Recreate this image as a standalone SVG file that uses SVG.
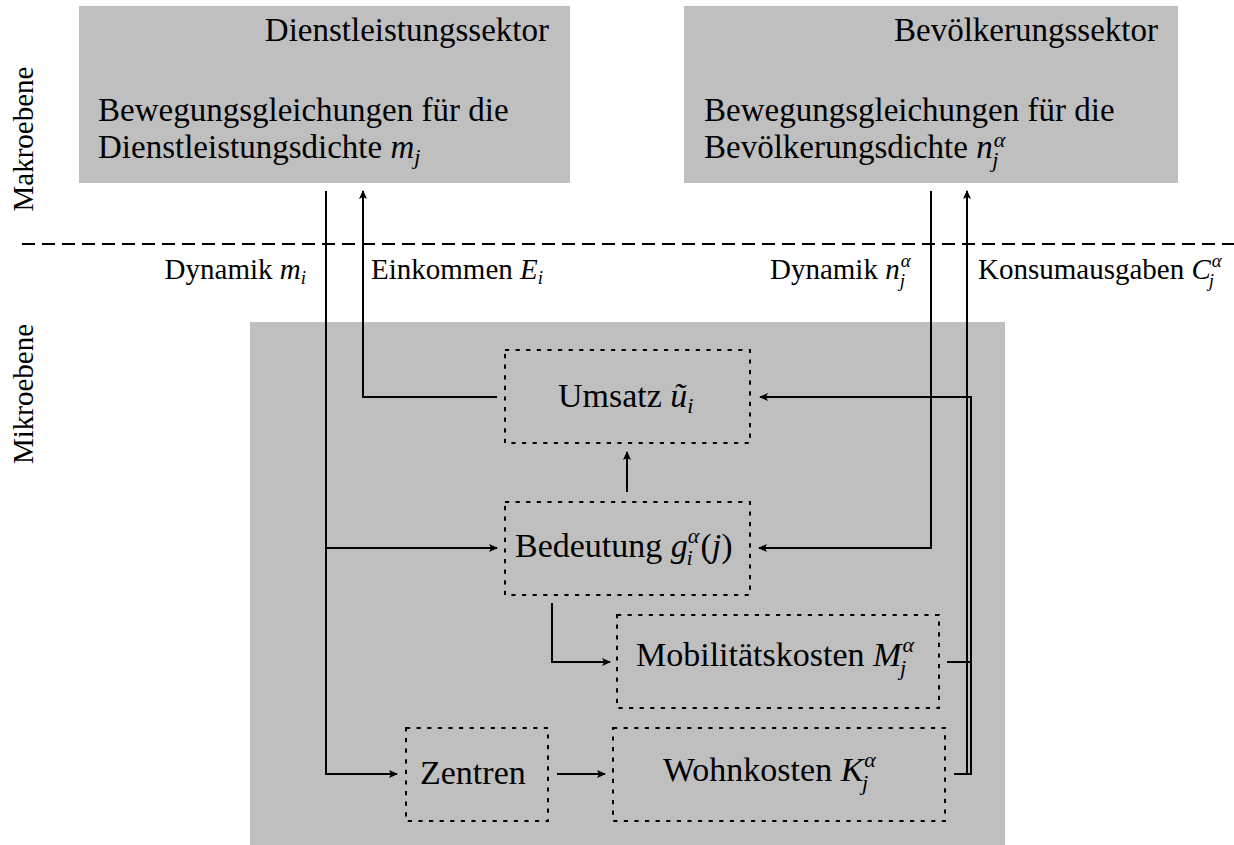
<svg xmlns="http://www.w3.org/2000/svg" width="1234" height="845" viewBox="0 0 1234 845">
<style>
text{font-family:'Liberation Serif','Times New Roman',serif;fill:#000}
.big{font-size:33px}
.mid{font-size:34px}
.sm{font-size:29px}
.it{font-style:italic}
.s1{font-size:22px;font-style:italic}
.s2{font-size:19px;font-style:italic}
.grey{fill:#bfbfbf}
.dot{fill:none;stroke:#000;stroke-width:2;stroke-dasharray:4.2 6.4}
.con{fill:none;stroke:#000;stroke-width:2}
</style>
<defs>
<marker id="ah" viewBox="-10 -5 12 10" refX="0" refY="0" markerWidth="12" markerHeight="10" orient="auto" markerUnits="userSpaceOnUse">
<path d="M1,0 L-8,-4 L-6,0 L-8,4 Z" fill="#000"/>
</marker>
</defs>
<rect width="1234" height="845" fill="#fff"/>
<g font-family="Liberation Serif, serif">

<g id="mikro-bg"><rect class="grey" x="250" y="322" width="755" height="523"/></g>

<g id="dienstleistung">
<rect class="grey" x="79" y="6" width="491" height="177"/>
<text class="big" x="549" y="41" text-anchor="end">Dienstleistungssektor</text>
<text class="big" x="98" y="121">Bewegungsgleichungen für die</text>
<text class="big" x="98" y="158">Dienstleistungsdichte <tspan class="it">m</tspan><tspan class="s1" dy="6">j</tspan></text>
</g>

<g id="bevoelkerung">
<rect class="grey" x="684" y="6" width="494" height="177"/>
<text class="big" x="1158" y="41" text-anchor="end">Bevölkerungssektor</text>
<text class="big" x="704" y="121">Bewegungsgleichungen für die</text>
<text class="big" x="704" y="158">Bevölkerungsdichte <tspan class="it">n</tspan><tspan class="s1" dx="1" dy="-11">α</tspan><tspan class="s1" dx="-13" dy="20">j</tspan></text>
</g>

<g id="ebenen">
<text class="sm" transform="translate(33,139) rotate(-90)" text-anchor="middle">Makroebene</text>
<text class="sm" transform="translate(33,394) rotate(-90)" text-anchor="middle">Mikroebene</text>
<line x1="22" y1="244" x2="1234" y2="244" stroke="#000" stroke-width="2" stroke-dasharray="13 7"/>
</g>

<g id="labels">
<text class="sm" x="306" y="279" text-anchor="end">Dynamik <tspan class="it">m</tspan><tspan class="s2" dy="5">i</tspan></text>
<text class="sm" x="371" y="279">Einkommen <tspan class="it">E</tspan><tspan class="s2" dy="5">i</tspan></text>
<text class="sm" x="770" y="279">Dynamik <tspan class="it">n</tspan><tspan class="s2" dx="1" dy="-12">α</tspan><tspan class="s2" dx="-11" dy="20">j</tspan></text>
<text class="sm" x="978" y="279">Konsumausgaben <tspan class="it">C</tspan><tspan class="s2" dx="1" dy="-12">α</tspan><tspan class="s2" dx="-13" dy="20">j</tspan></text>
</g>

<g id="umsatz">
<rect class="dot" x="505" y="350" width="245" height="93"/>
<text class="mid" x="558" y="407">Umsatz <tspan class="it">ũ</tspan><tspan class="s1" dy="6">i</tspan></text>
</g>

<g id="bedeutung">
<rect class="dot" x="505" y="502" width="245" height="93"/>
<text class="mid" x="515" y="557">Bedeutung <tspan class="it">g</tspan><tspan class="s1" dy="-14">α</tspan><tspan class="s1" dx="-13" dy="22">i</tspan><tspan dx="8" dy="-8">(</tspan><tspan class="it">j</tspan><tspan>)</tspan></text>
</g>

<g id="mobilitaet">
<rect class="dot" x="617" y="615" width="322" height="93"/>
<text class="mid" x="636" y="666">Mobilitätskosten <tspan class="it">M</tspan><tspan class="s1" dx="1" dy="-14">α</tspan><tspan class="s1" dx="-14" dy="23">j</tspan></text>
</g>

<g id="zentren">
<rect class="dot" x="406" y="728" width="142" height="93"/>
<text class="mid" x="420" y="784">Zentren</text>
</g>

<g id="wohnkosten">
<rect class="dot" x="613" y="728" width="332" height="93"/>
<text class="mid" x="663" y="781">Wohnkosten <tspan class="it">K</tspan><tspan class="s1" dx="1" dy="-14">α</tspan><tspan class="s1" dx="-14" dy="23">j</tspan></text>
</g>

<g id="connectors">
<path class="con" d="M326,191 V774 H397" marker-end="url(#ah)"/>
<path class="con" d="M326,548 H497" marker-end="url(#ah)"/>
<path class="con" d="M497,397 H363 V191" marker-end="url(#ah)"/>
<path class="con" d="M931,191 V548 H759" marker-end="url(#ah)"/>
<path class="con" d="M971,775 V397 H760" marker-end="url(#ah)"/>
<path class="con" d="M967,775 V191" marker-end="url(#ah)"/>
<path class="con" d="M947,662 H971"/>
<path class="con" d="M954,774 H971"/>
<path class="con" d="M627,492 V452" marker-end="url(#ah)"/>
<path class="con" d="M552,603 V662 H610" marker-end="url(#ah)"/>
<path class="con" d="M557,774 H605" marker-end="url(#ah)"/>
</g>
</g>
</svg>
